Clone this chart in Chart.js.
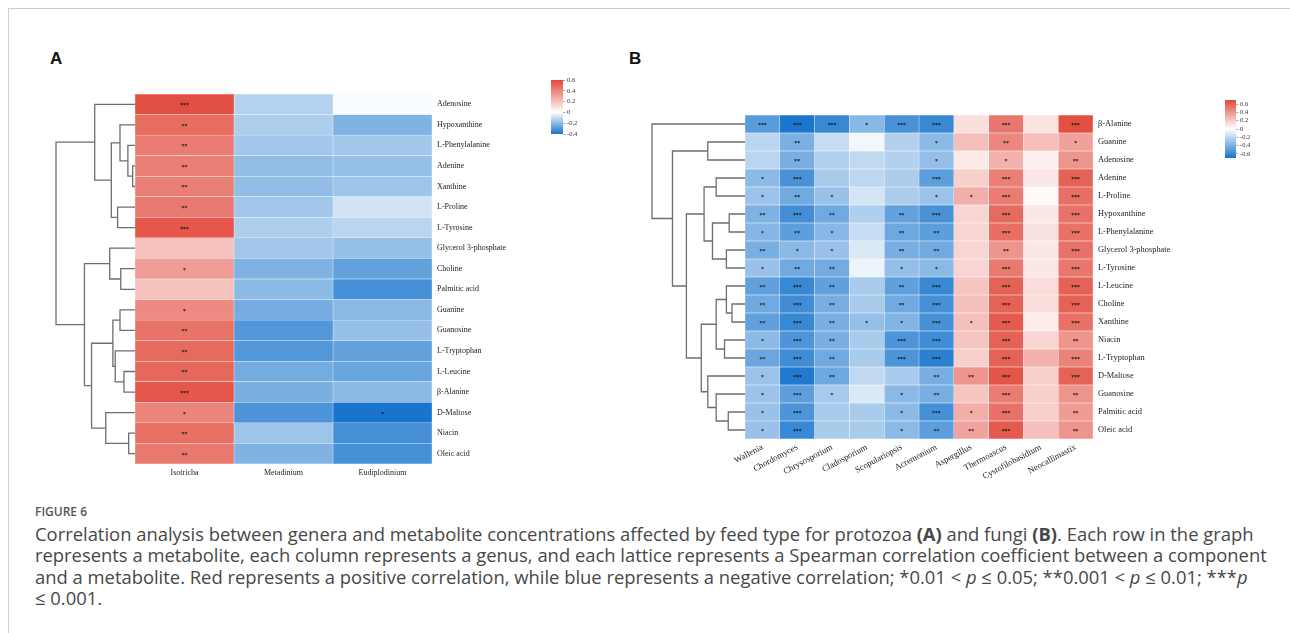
<!DOCTYPE html>
<html>
<head>
<meta charset="utf-8">
<script src="https://cdn.jsdelivr.net/npm/chart.js@4.4.1/dist/chart.umd.min.js"></script>
<style>
  html, body { margin: 0; padding: 0; background: #fff; }
  body { width: 1290px; height: 633px; position: relative; overflow: hidden; }
  .frame { position: absolute; left: 8px; top: 8px; width: 1300px; height: 700px; border: 1px solid #cfcfcf; }
  canvas { position: absolute; }
  .tag { position: absolute; font: bold 17px 'Liberation Sans', Arial, sans-serif; line-height: 20px; color: #111; }
  .fig { position: absolute; left: 35px; top: 505px; font: 600 12px 'Open Sans', sans-serif; line-height: 14px; color: #555; }
  .cap { position: absolute; left: 35px; top: 523px; font: 18.4px 'Open Sans', sans-serif; line-height: 21.3px; color: #474747; white-space: nowrap; }
</style>
</head>
<body>
<div class="frame"></div>
<div class="tag" style="left:50px;top:49px">A</div>
<div class="tag" style="left:629px;top:49px">B</div>

<canvas id="dendroA" width="83" height="370" style="left:52px;top:94px"></canvas>
<canvas id="heatA" width="412" height="395" style="left:135px;top:94px"></canvas>
<canvas id="barA" width="38" height="62" style="left:551px;top:76px"></canvas>

<canvas id="dendroB" width="97" height="324" style="left:648px;top:115px"></canvas>
<canvas id="heatB" width="488" height="389" style="left:715px;top:115px"></canvas>
<canvas id="barB" width="37" height="66" style="left:1225px;top:96px"></canvas>

<div class="fig">FIGURE 6</div>
<div class="cap">Correlation analysis between genera and metabolite concentrations affected by feed type for protozoa <b>(A)</b> and fungi <b>(B)</b>. Each row in the graph<br>represents a metabolite, each column represents a genus, and each lattice represents a Spearman correlation coefficient between a component<br>and a metabolite. Red represents a positive correlation, while blue represents a negative correlation; *0.01 &lt; <i>p</i> ≤ 0.05; **0.001 &lt; <i>p</i> ≤ 0.01; ***<i>p</i><br>≤ 0.001.</div>

<script>
// ---- panel A : protozoa ----
const rowsA = ['Adenosine','Hypoxanthine','L-Phenylalanine','Adenine','Xanthine','L-Proline','L-Tyrosine',
  'Glycerol 3-phosphate','Choline','Palmitic acid','Guanine','Guanosine','L-Tryptophan','L-Leucine',
  'β-Alanine','D-Maltose','Niacin','Oleic acid'];
const colsA = ['Isotricha','Metadinium','Eudiplodinium'];
const isotricha     = [0.58,0.48,0.43,0.42,0.42,0.44,0.55,0.20,0.32,0.20,0.38,0.46,0.49,0.50,0.55,0.40,0.47,0.44];
const metadinium    = [-0.13,-0.14,-0.16,-0.19,-0.19,-0.16,-0.14,-0.16,-0.22,-0.20,-0.24,-0.30,-0.30,-0.24,-0.23,-0.31,-0.17,-0.22];
const eudiplodinium = [-0.01,-0.22,-0.16,-0.18,-0.17,-0.08,-0.12,-0.18,-0.27,-0.32,-0.20,-0.18,-0.27,-0.26,-0.20,-0.40,-0.32,-0.32];
// number of stars per cell
const starsIsotricha     = [3,2,2,2,2,2,3,0,1,0,1,2,2,2,3,1,2,2];
const starsMetadinium    = [0,0,0,0,0,0,0,0,0,0,0,0,0,0,0,0,0,0];
const starsEudiplodinium = [0,0,0,0,0,0,0,0,0,0,0,0,0,0,0,1,0,0];
// dendrogram merges [node, node, height]; leaves are row indexes, new nodes numbered from 18
const treeA = [[3,4,0.03],[2,18,0.09],[1,19,0.19],[5,6,0.22],[20,21,0.30],[0,22,0.51],
  [8,9,0.18],[7,24,0.32],[13,14,0.14],[12,26,0.25],[10,11,0.19],[28,27,0.28],
  [16,17,0.08],[15,30,0.37],[29,31,0.55],[25,32,0.64],[23,33,1.0]];
const rangeA = [-0.4, 0.6];
const legendTicksA = [-0.4,-0.2,0,0.2,0.4,0.6];

// ---- panel B : fungi ----
const rowsB = ['β-Alanine','Guanine','Adenosine','Adenine','L-Proline','Hypoxanthine','L-Phenylalanine',
  'Glycerol 3-phosphate','L-Tyrosine','L-Leucine','Choline','Xanthine','Niacin','L-Tryptophan',
  'D-Maltose','Guanosine','Palmitic acid','Oleic acid'];
const colsB = ['Wallenia','Chordomyces','Chrysosporium','Cladosporium','Scopulariopsis','Acremonium',
  'Aspergillus','Thermoascus','Cystofilobasidium','Neocallimastix'];
const corrB = [
  [-0.50,-0.69,-0.60,-0.36,-0.55,-0.60,0.12,0.52,0.10,0.67],
  [-0.21,-0.40,-0.17,-0.04,-0.23,-0.35,0.24,0.46,0.25,0.36],
  [-0.21,-0.41,-0.23,-0.19,-0.23,-0.32,0.08,0.30,0.06,0.40],
  [-0.35,-0.55,-0.26,-0.20,-0.25,-0.49,0.18,0.49,0.09,0.60],
  [-0.30,-0.43,-0.31,-0.13,-0.25,-0.30,0.31,0.50,0.02,0.55],
  [-0.39,-0.57,-0.43,-0.24,-0.47,-0.55,0.16,0.57,0.09,0.54],
  [-0.37,-0.49,-0.36,-0.17,-0.44,-0.49,0.16,0.55,0.11,0.54],
  [-0.41,-0.35,-0.31,-0.11,-0.41,-0.43,0.16,0.41,0.09,0.54],
  [-0.31,-0.43,-0.42,-0.06,-0.32,-0.35,0.16,0.51,0.09,0.52],
  [-0.48,-0.60,-0.48,-0.26,-0.48,-0.60,0.22,0.60,0.13,0.60],
  [-0.43,-0.58,-0.41,-0.26,-0.43,-0.56,0.24,0.60,0.13,0.60],
  [-0.48,-0.60,-0.41,-0.32,-0.38,-0.56,0.24,0.63,0.07,0.54],
  [-0.35,-0.54,-0.41,-0.26,-0.54,-0.58,0.22,0.60,0.16,0.40],
  [-0.45,-0.58,-0.43,-0.26,-0.54,-0.64,0.18,0.60,0.29,0.48],
  [-0.30,-0.67,-0.44,-0.19,-0.26,-0.41,0.40,0.65,0.18,0.60],
  [-0.30,-0.49,-0.27,-0.11,-0.35,-0.41,0.22,0.50,0.18,0.41],
  [-0.31,-0.54,-0.26,-0.26,-0.35,-0.56,0.31,0.54,0.18,0.38],
  [-0.31,-0.60,-0.26,-0.26,-0.35,-0.49,0.35,0.63,0.24,0.41]
];
const starsB = [
  [3,3,3,1,3,3,0,3,0,3],
  [0,2,0,0,0,1,0,2,0,1],
  [0,2,0,0,0,1,0,1,0,2],
  [1,3,0,0,0,3,0,3,0,3],
  [1,2,1,0,0,1,1,3,0,3],
  [2,3,2,0,2,3,0,3,0,3],
  [1,2,1,0,2,2,0,3,0,3],
  [2,1,1,0,2,2,0,2,0,3],
  [1,2,2,0,1,1,0,3,0,3],
  [2,3,2,0,2,3,0,3,0,3],
  [2,3,2,0,2,3,0,3,0,3],
  [2,3,2,1,1,3,1,3,0,3],
  [1,3,2,0,3,3,0,3,0,2],
  [2,3,2,0,3,3,0,3,0,3],
  [1,3,2,0,0,2,2,3,0,3],
  [1,3,1,0,1,2,0,3,0,2],
  [1,3,0,0,1,3,1,3,0,2],
  [1,3,0,0,1,2,2,3,0,2]
];
const treeB = [[1,2,0.40],[3,4,0.31],[5,6,0.17],[7,8,0.20],[20,21,0.35],[19,22,0.44],
  [10,11,0.14],[9,24,0.20],[12,13,0.22],[25,26,0.31],[16,17,0.18],[15,28,0.31],
  [14,29,0.40],[27,30,0.47],[23,31,0.63],[18,32,0.78],[0,33,1.0]];
const rangeB = [-0.7, 0.7];
const legendTicksB = [-0.6,-0.4,-0.2,0,0.2,0.4,0.6];

const RED = [225, 72, 58], BLUE = [24, 116, 205];

function corrColor(v, vmin, vmax) {
  const t = v >= 0 ? Math.min(v / vmax, 1) : Math.min(v / vmin, 1);
  const end = v >= 0 ? RED : BLUE;
  const c = end.map(e => Math.round(255 + (e - 255) * t));
  return 'rgb(' + c.join(',') + ')';
}

// keep chartArea exactly where the canvas says, no label overflow padding
function noPad(s) {
  s.paddingTop = 0; s.paddingBottom = 0; s.paddingLeft = 0; s.paddingRight = 0;
}

const starPlugin = {
  id: 'stars',
  afterDatasetsDraw(chart, args, opts) {
    const c = chart.ctx;
    c.save();
    c.fillStyle = '#111';
    c.font = opts.font;
    c.textAlign = 'center';
    c.textBaseline = 'middle';
    chart.data.datasets.forEach((ds, i) => {
      chart.getDatasetMeta(i).data.forEach((bar, j) => {
        const n = ds.stars[j];
        if (!n) return;
        c.fillText('*'.repeat(n), (bar.x + bar.base) / 2, bar.y + opts.dy);
      });
    });
    c.restore();
  }
};

function makeHeatmap(id, rows, cols, colValues, colStars, range, o) {
  const datasets = cols.map((name, j) => ({
    label: name,
    data: rows.map(() => 1),
    backgroundColor: colValues[j].map(v => corrColor(v, range[0], range[1])),
    stars: colStars[j],
    borderWidth: 0.5,
    borderColor: 'rgba(255,255,255,0.55)',
    borderSkipped: false,
    barPercentage: 1,
    categoryPercentage: 1
  }));
  new Chart(document.getElementById(id), {
    type: 'bar',
    data: { labels: rows, datasets: datasets },
    plugins: [starPlugin],
    options: {
      indexAxis: 'y',
      responsive: false,
      animation: false,
      layout: { padding: { left: o.padLeft, right: 0, top: 0, bottom: 0 }, autoPadding: false },
      plugins: {
        legend: { display: false },
        tooltip: { enabled: false },
        stars: { font: o.starFont, dy: o.starDy }
      },
      scales: {
        x: {
          type: 'linear', stacked: true, min: 0, max: cols.length, position: 'bottom',
          grid: { display: false, drawTicks: false },
          border: { display: false },
          afterBuildTicks: s => { s.ticks = cols.map((c, i) => ({ value: i + 0.5 })); },
          afterFit: s => { s.height = o.xHeight; noPad(s); },
          ticks: {
            autoSkip: false, padding: o.xPad, color: '#222',
            minRotation: o.rot, maxRotation: o.rot,
            font: { family: 'Liberation Serif', size: o.xFont },
            callback: v => cols[Math.floor(v)]
          }
        },
        y: {
          type: 'category', stacked: true, position: 'right',
          grid: { display: false, drawTicks: false },
          border: { display: false },
          afterFit: s => { s.width = o.yWidth; noPad(s); },
          ticks: { autoSkip: false, padding: 5, color: '#222', font: { family: 'Liberation Serif', size: o.font } }
        }
      }
    }
  });
}

function makeDendrogram(id, nLeaves, merges) {
  const pos = [];
  for (let i = 0; i < nLeaves; i++) pos.push({ y: i, h: 0 });
  const datasets = merges.map(([a, b, h]) => {
    const p = pos[a], q = pos[b];
    pos.push({ y: (p.y + q.y) / 2, h: h });
    return {
      data: [{ x: p.h, y: p.y }, { x: h, y: p.y }, { x: h, y: q.y }, { x: q.h, y: q.y }],
      showLine: true, borderColor: '#6e6e6e', borderWidth: 1.3,
      pointRadius: 0, tension: 0, clip: false
    };
  });
  new Chart(document.getElementById(id), {
    type: 'scatter',
    data: { datasets: datasets },
    options: {
      responsive: false,
      animation: false,
      layout: { padding: { left: 4, right: 0, top: 0, bottom: 0 } },
      plugins: { legend: { display: false }, tooltip: { enabled: false } },
      scales: {
        x: { type: 'linear', reverse: true, min: 0, max: 1, display: false },
        y: { type: 'linear', reverse: true, min: -0.5, max: nLeaves - 0.5, display: false }
      }
    }
  });
}

function makeColorbar(id, range, ticks, fontSize) {
  const [vmin, vmax] = range;
  new Chart(document.getElementById(id), {
    type: 'bar',
    data: {
      labels: [''],
      datasets: [{
        data: [[vmin, vmax]],
        barPercentage: 1, categoryPercentage: 1, borderWidth: 0,
        backgroundColor: ctx => {
          const chart = ctx.chart;
          if (!chart.chartArea) return '#ddd';
          const y = chart.scales.y;
          const g = chart.ctx.createLinearGradient(0, y.getPixelForValue(vmin), 0, y.getPixelForValue(vmax));
          g.addColorStop(0, 'rgb(' + BLUE.join(',') + ')');
          g.addColorStop((0 - vmin) / (vmax - vmin), '#ffffff');
          g.addColorStop(1, 'rgb(' + RED.join(',') + ')');
          return g;
        }
      }]
    },
    options: {
      responsive: false,
      animation: false,
      layout: { padding: { top: 4, bottom: 4, left: 0, right: 0 }, autoPadding: false },
      plugins: { legend: { display: false }, tooltip: { enabled: false } },
      scales: {
        x: { display: false },
        y: {
          position: 'right', min: vmin, max: vmax,
          afterBuildTicks: s => { s.ticks = ticks.map(v => ({ value: v })); },
          afterFit: s => { s.width = 26; noPad(s); },
          grid: { drawOnChartArea: false, drawTicks: true, tickLength: 2.5, color: '#777', lineWidth: 0.6 },
          border: { display: false },
          ticks: {
            autoSkip: false, padding: 1.5, color: '#333',
            font: { family: 'Liberation Serif', size: fontSize },
            callback: v => String(Math.round(v * 10) / 10)
          }
        }
      }
    }
  });
}

makeDendrogram('dendroA', rowsA.length, treeA);
makeHeatmap('heatA', rowsA, colsA, [isotricha, metadinium, eudiplodinium],
  [starsIsotricha, starsMetadinium, starsEudiplodinium], rangeA,
  { font: 8, xFont: 8, rot: 0, xPad: 4, xHeight: 25, yWidth: 115, padLeft: 0,
    starFont: 'bold 5.5px "DejaVu Sans"', starDy: 1.5 });
makeColorbar('barA', rangeA, legendTicksA, 6.5);

makeDendrogram('dendroB', rowsB.length, treeB);
makeHeatmap('heatB', rowsB, colsB,
  colsB.map((c, j) => corrB.map(r => r[j])),
  colsB.map((c, j) => starsB.map(r => r[j])), rangeB,
  { font: 8.4, xFont: 8.8, rot: 28, xPad: 3, xHeight: 65, yWidth: 110, padLeft: 30,
    starFont: 'bold 5.5px "DejaVu Sans"', starDy: 1.5 });
makeColorbar('barB', rangeB, legendTicksB, 6.5);
</script>
</body>
</html>
